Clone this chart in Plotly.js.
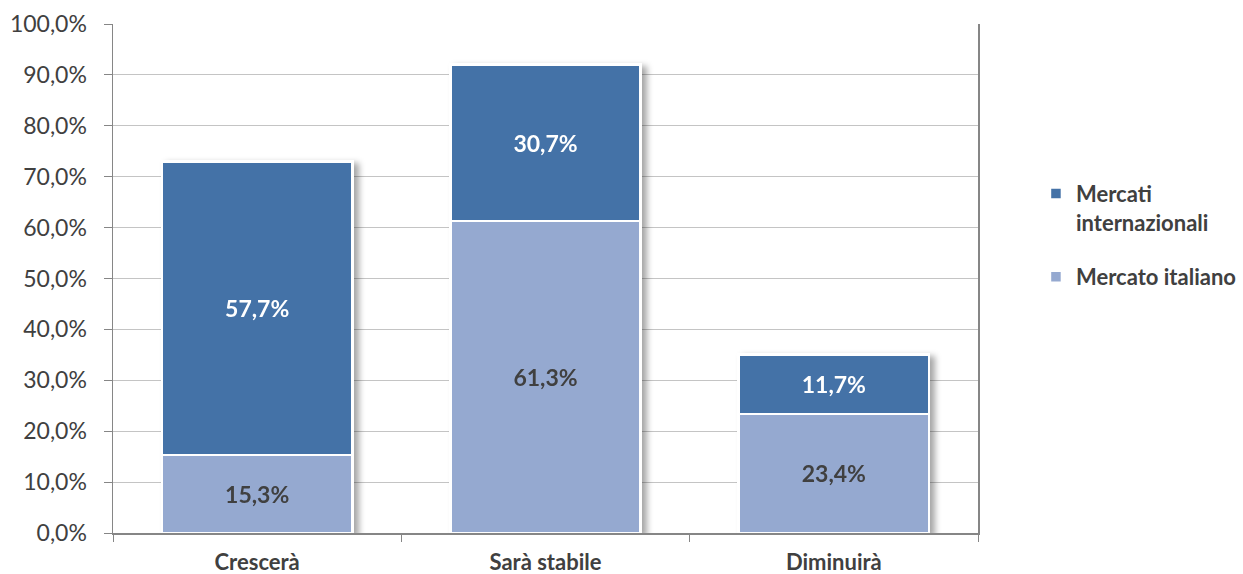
<!DOCTYPE html>
<html>
<head>
<meta charset="utf-8">
<script src="https://cdn.plot.ly/plotly-3.0.1.min.js"></script>
<style>
  html, body { margin: 0; padding: 0; background: #fff; }
  #chart { width: 1243px; height: 574px; }
  /* soft drop shadow behind the stacked bars */
  .barlayer { filter: drop-shadow(5px 3px 3px rgba(0,0,0,0.35)); }
</style>
</head>
<body>
<div id="chart"></div>
<script>
// Expected trend of sales, by market
const categories = ["Crescerà", "Sarà stabile", "Diminuirà"];
const mercatoItaliano = [15.3, 61.3, 23.4];
const mercatiInternazionali = [57.7, 30.7, 11.7];
const seriesNames = ["Mercato italiano", "Mercati<br>internazionali"];

const FONT = "Lato, 'Open Sans', sans-serif";
const TEXT_GREY = "#404040";

const common = {
  type: "bar",
  x: categories,
  width: 0.66,
  texttemplate: "%{y:.1f}%",
  textposition: "inside",
  insidetextanchor: "middle",
  constraintext: "none",
  hoverinfo: "skip"
};

const traces = [
  Object.assign({}, common, {
    name: seriesNames[0],
    y: mercatoItaliano,
    legendgroup: "it",
    legendrank: 2,
    marker: { color: "#95A9D0", line: { color: "#ffffff", width: 2.5 } },
    textfont: { family: FONT, size: 23, color: TEXT_GREY, weight: 700 }
  }),
  Object.assign({}, common, {
    name: seriesNames[1],
    y: mercatiInternazionali,
    legendgroup: "int",
    legendrank: 1,
    marker: { color: "#4472A7", line: { color: "#ffffff", width: 2.5 } },
    textfont: { family: FONT, size: 23, color: "#ffffff", weight: 700 }
  })
];

const layout = {
  width: 1243,
  height: 574,
  barmode: "stack",
  separators: ",.",
  paper_bgcolor: "#ffffff",
  plot_bgcolor: "#ffffff",
  margin: { l: 113, r: 265, t: 24, b: 41, autoexpand: false },
  font: { family: FONT, color: TEXT_GREY },
  showlegend: true,
  legend: {
    x: 1.067, xanchor: "left",
    y: 0.708, yanchor: "top",
    traceorder: "grouped",
    tracegroupgap: 23,
    valign: "top",
    font: { family: FONT, size: 22, color: TEXT_GREY, weight: 700 },
    itemwidth: 30
  },
  xaxis: {
    automargin: false,
    showline: true,
    linecolor: "#868686",
    linewidth: 1.5,
    ticks: "outside",
    tickson: "boundaries",
    ticklen: 7,
    tickcolor: "#868686",
    tickfont: { family: FONT, size: 22, color: TEXT_GREY, weight: 700 },
    ticklabelstandoff: 9,
    showgrid: false
  },
  yaxis: {
    automargin: false,
    range: [0, 100],
    dtick: 10,
    tickformat: ".1f",
    ticksuffix: "%",
    showline: true,
    mirror: true,
    linecolor: "#868686",
    linewidth: 1.5,
    ticks: "outside",
    ticklen: 8,
    tickcolor: "#868686",
    tickfont: { family: FONT, size: 23, color: TEXT_GREY },
    ticklabelstandoff: 12,
    showgrid: true,
    gridcolor: "#c4c4c4",
    gridwidth: 1,
    zeroline: false
  }
};

Plotly.newPlot("chart", traces, layout, { displayModeBar: false, staticPlot: true });
</script>
</body>
</html>
